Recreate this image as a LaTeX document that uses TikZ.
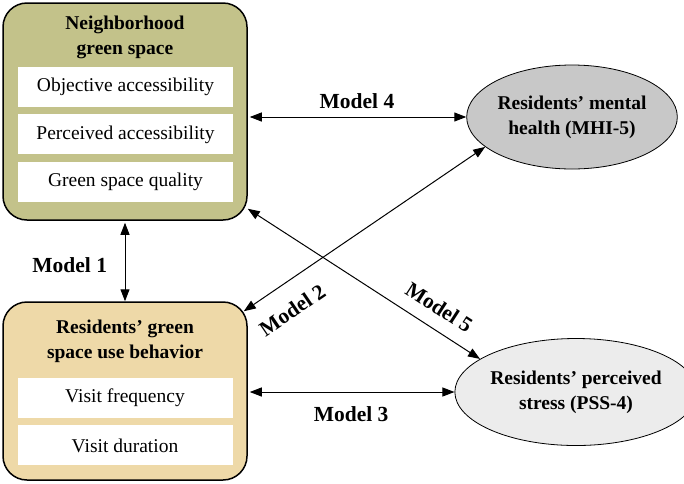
\documentclass[tikz,border=0pt]{standalone}
\usepackage{fontspec}
\setmainfont{Liberation Serif}
\usepackage{xcolor}
\usetikzlibrary{shapes.geometric,arrows.meta,positioning}

\definecolor{greenbox}{RGB}{195,194,138}
\definecolor{tanbox}{RGB}{238,217,168}
\definecolor{mhgray}{RGB}{200,200,200}
\definecolor{psgray}{RGB}{236,236,236}

\begin{document}
\begin{tikzpicture}[
    x=1pt, y=1pt,
    group/.style={rectangle, draw=black, line width=1.5pt, rounded corners=24pt, minimum width=244pt, inner sep=0pt},
    title/.style={align=center, font=\fontsize{19.5}{25}\selectfont\bfseries, inner sep=0pt},
    item/.style={rectangle, fill=white, minimum width=215pt, minimum height=40pt, inner sep=0pt, font=\fontsize{19.5}{22}\selectfont},
    outcome/.style={ellipse, draw=black, line width=0.8pt, inner sep=0pt, align=center, font=\fontsize{19.5}{25}\selectfont\bfseries},
    link/.style={line width=1pt, {Triangle[length=12pt,width=9pt]}-{Triangle[length=12pt,width=9pt]}},
    model/.style={inner sep=0pt, font=\fontsize{21.5}{25}\selectfont\bfseries}
]
    \useasboundingbox (0,0) rectangle (684,-483);

    % Neighborhood green space
    \node[group, fill=greenbox, minimum height=217pt] (ngs) at (125,-111.5) {};
    \node[title] (ngstitle) at (125,-37) {Neighborhood\\green space};
    \node[item] (objacc) at (125.5,-87) {Objective accessibility};
    \node[item, below=7pt of objacc] (peracc) {Perceived accessibility};
    \node[item, below=7pt of peracc] (quality) {Green space quality};

    % Green space use behavior
    \node[group, fill=tanbox, minimum height=178pt] (use) at (125,-391) {};
    \node[title] (usetitle) at (125,-341.5) {Residents’ green\\space use behavior};
    \node[item] (freq) at (125,-398) {Visit frequency};
    \node[item, below=7pt of freq] (dur) {Visit duration};

    % Outcomes
    \node[outcome, fill=mhgray, minimum width=208pt, minimum height=104pt] (mh) at (572,-117) {Residents’ mental\\health (MHI-5)};
    \node[outcome, fill=psgray, minimum width=214pt, minimum height=107pt] (ps) at (576,-392) {Residents’ perceived\\stress (PSS-4)};

    % Models
    \draw[link, shorten <=2pt] (ngs.south) -- node[model, left, outer sep=18pt, pos=0.55] {Model 1} (use.north);
    \draw[link] ([shift={(-4,-10)}]use.north east) -- node[model, sloped, below, outer sep=18.7pt, pos=0.14] {Model 2} (mh.199);
    \draw[link, shorten <=2pt] (ps.west -| use.east) -- node[model, below, outer sep=14.7pt] {Model 3} (ps.west);
    \draw[link, shorten <=2pt] (mh.west -| ngs.east) -- node[model, above, outer sep=8pt] {Model 4} (mh.west);
    \draw[link] ([yshift=12]ngs.south east) -- node[model, sloped, above, outer sep=13.7pt, pos=0.775] {Model 5} (ps.161);

\end{tikzpicture}
\end{document}
